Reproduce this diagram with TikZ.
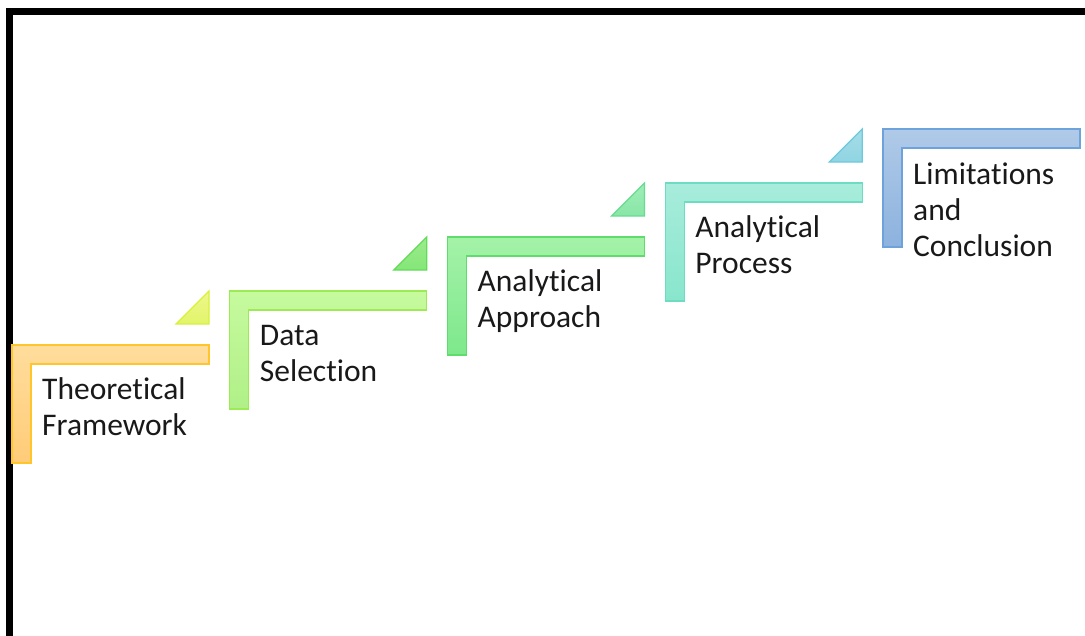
\documentclass[tikz,border=0pt]{standalone}
\usepackage{fontspec}
\setmainfont{Carlito}[Ligatures={NoCommon}]
\begin{document}
\begin{tikzpicture}[x=1pt,y=-1pt,
  lstep/.style={line width=1.3pt, line join=miter},
  ltri/.style={line width=1.3pt, line join=miter},
  label/.style={anchor=base west, inner sep=0pt, align=left, text=black!90,
    font=\fontsize{31.5}{36}\selectfont},
  frame/.style={line width=7pt, draw=black}]
\useasboundingbox (0,0) rectangle (1085,635);
% colours
\definecolor{o1}{HTML}{FFDD9C}\definecolor{o2}{HTML}{FFCC78}\definecolor{ob}{HTML}{FFC52A}
\definecolor{y1}{HTML}{EEF88A}\definecolor{y2}{HTML}{E2F46A}\definecolor{yb}{HTML}{D8F03E}
\definecolor{g1}{HTML}{C6FA9E}\definecolor{g2}{HTML}{B0F088}\definecolor{gb}{HTML}{9CEB52}
\definecolor{h1}{HTML}{9CEC8C}\definecolor{h2}{HTML}{84E678}\definecolor{hb}{HTML}{62DC58}
\definecolor{k1}{HTML}{A4F2A8}\definecolor{k2}{HTML}{7EE88C}\definecolor{kb}{HTML}{5EDC6C}
\definecolor{m1}{HTML}{A0EEB8}\definecolor{m2}{HTML}{88E6A6}\definecolor{mb}{HTML}{66DC90}
\definecolor{a1}{HTML}{A8ECDC}\definecolor{a2}{HTML}{88E6CC}\definecolor{ab}{HTML}{6CDCC2}
\definecolor{c1}{HTML}{A6DEE8}\definecolor{c2}{HTML}{90D4E2}\definecolor{cb}{HTML}{6CCADC}
\definecolor{b1}{HTML}{B0CAE8}\definecolor{b2}{HTML}{8CB2DE}\definecolor{bb}{HTML}{6EA2DA}
% frame
\draw[frame] (9.5,645) -- (9.5,11) -- (1095,11);
% steps
\foreach \i/\ta/\tb/\bd in {0/o1/o2/ob,1/g1/g2/gb,2/k1/k2/kb,3/a1/a2/ab,4/b1/b2/bb}{
  \pgfmathsetmacro{\ox}{12+217.75*\i}
  \pgfmathsetmacro{\oy}{345-54*\i}
  \draw[lstep, draw=\bd, top color=\ta, bottom color=\tb]
    (\ox,\oy) -- ++(197,0) -- ++(0,19) -- ++(-178,0) -- ++(0,99) -- ++(-19,0) -- cycle;
}
\foreach \i/\ta/\tb/\bd in {0/y1/y2/yb,1/h1/h2/hb,2/m1/m2/mb,3/c1/c2/cb}{
  \pgfmathsetmacro{\ox}{12+217.75*\i}
  \pgfmathsetmacro{\oy}{345-54*\i}
  \draw[ltri, draw=\bd, top color=\ta, bottom color=\tb]
    (\ox+164,\oy-21) -- (\ox+197,\oy-54) -- (\ox+197,\oy-21) -- cycle;
}
% labels
\node[label] (t1) at (42,435) {Theoretical\\Framework};
\node[label] (t2) at (259.75,381) {Data\\Selection};
\node[label] (t3) at (477.5,327) {Analytical\\Approach};
\node[label] (t4) at (695.25,273) {Analytical\\Process};
\node[label] (t5) at (913,256) {Limitations\\and\\Conclusion};
\end{tikzpicture}
\end{document}
